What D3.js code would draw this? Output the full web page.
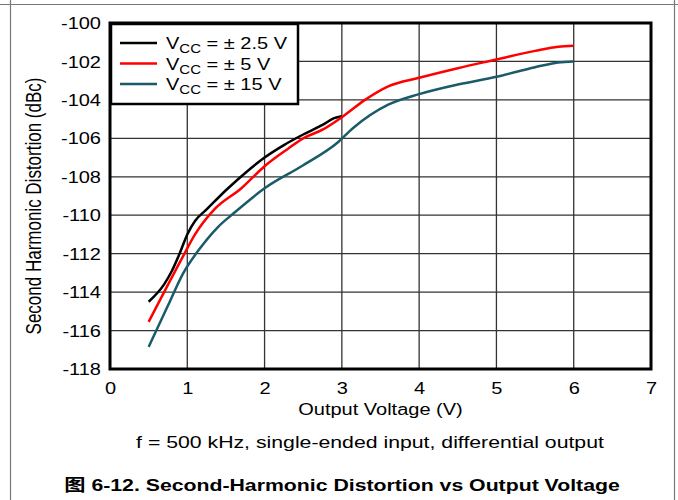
<!DOCTYPE html>
<html>
<head>
<meta charset="utf-8">
<script src="https://cdn.jsdelivr.net/npm/d3@7"></script>
<style>
  body { margin: 0; background: #fff; }
  text { font-family: "Liberation Sans", Arial, sans-serif; }
</style>
</head>
<body>
<div id="chart"></div>
<script>
// data
var x_ticks = [0, 1, 2, 3, 4, 5, 6, 7];
var y_ticks = [-100, -102, -104, -106, -108, -110, -112, -114, -116, -118];

var vout_25 = [0.5, 0.7, 0.8, 0.9, 1.0, 1.1, 1.25, 1.5, 1.75, 2.0, 2.25, 2.5, 2.75, 2.9, 3.0];
var hd2_25 = [-114.5, -113.6, -112.9, -112.0, -111.0, -110.3, -109.7, -108.7, -107.8, -107.0, -106.35, -105.8, -105.3, -104.95, -104.85];

var vout_5 = [0.5, 0.7, 0.95, 1.1, 1.35, 1.7, 2.0, 2.3, 2.5, 2.75, 3.0, 3.3, 3.6, 4.0, 4.5, 5.0, 5.5, 5.8, 6.0];
var hd2_5 = [-115.55, -114.0, -112.1, -111.0, -109.7, -108.6, -107.45, -106.55, -106.0, -105.55, -104.9, -104.0, -103.3, -102.85, -102.35, -101.9, -101.45, -101.23, -101.18];

var vout_15 = [0.5, 0.75, 0.95, 1.15, 1.4, 1.6, 2.0, 2.5, 2.95, 3.15, 3.6, 4.0, 4.5, 5.0, 5.5, 5.8, 6.0];
var hd2_15 = [-116.85, -114.7, -113.0, -111.8, -110.6, -109.9, -108.6, -107.4, -106.2, -105.45, -104.25, -103.7, -103.2, -102.8, -102.3, -102.05, -102.0];

var series_names = ["\u00b1 2.5 V", "\u00b1 5 V", "\u00b1 15 V"];
var series_colors = ["#000000", "#ff0000", "#1a5b6a"];

var chart_width = 678, chart_height = 500;
var plot_left = 110, plot_right = 651, plot_top = 23, plot_bottom = 369;
var stretch = 1.25; // text in the reference is wider than it is tall

var svg = d3.select("#chart").append("svg")
    .attr("width", chart_width)
    .attr("height", chart_height);

// places a horizontally stretched text at x, y
function put_text(sel, x, y) {
    sel.attr("transform", "translate(" + x + "," + y + ") scale(" + stretch + ",1)");
}

// outer page frame
svg.append("line").attr("x1", 0).attr("x2", chart_width).attr("y1", 4.5).attr("y2", 4.5)
    .attr("stroke", "#777").attr("stroke-width", 1.2);
svg.append("line").attr("x1", 10.5).attr("x2", 10.5).attr("y1", 0).attr("y2", chart_height)
    .attr("stroke", "#777").attr("stroke-width", 1.2);
svg.append("line").attr("x1", 674.5).attr("x2", 674.5).attr("y1", 0).attr("y2", chart_height)
    .attr("stroke", "#777").attr("stroke-width", 1.2);

var scale_x = d3.scaleLinear().domain([0, 7]).range([plot_left, plot_right]);
var scale_y = d3.scaleLinear().domain([-118, -100]).range([plot_bottom, plot_top]);

// grid
svg.append("g").selectAll("line")
    .data(x_ticks.slice(1, -1))
    .enter().append("line")
    .attr("x1", function(d) { return scale_x(d); })
    .attr("x2", function(d) { return scale_x(d); })
    .attr("y1", plot_top).attr("y2", plot_bottom)
    .attr("stroke", "#333").attr("stroke-width", 1.3);

svg.append("g").selectAll("line")
    .data(y_ticks.slice(1, -1))
    .enter().append("line")
    .attr("y1", function(d) { return scale_y(d); })
    .attr("y2", function(d) { return scale_y(d); })
    .attr("x1", plot_left).attr("x2", plot_right)
    .attr("stroke", "#333").attr("stroke-width", 1.3);

// tick labels
var x_axis = d3.axisBottom(scale_x).tickValues(x_ticks).tickSize(0).tickFormat(d3.format("d"));
var gx = svg.append("g")
    .attr("transform", "translate(0," + plot_bottom + ")")
    .call(x_axis)
    .call(function(g) { g.select(".domain").remove(); });
gx.selectAll("text")
    .attr("y", 0).attr("dy", null)
    .attr("font-size", 16)
    .attr("fill", "#000")
    .attr("font-family", "Liberation Sans, Arial, sans-serif")
    .each(function() { put_text(d3.select(this), 0, 25); });

var y_axis = d3.axisLeft(scale_y).tickValues(y_ticks).tickSize(0)
    .tickFormat(function(d) { return d; });
var gy = svg.append("g")
    .attr("transform", "translate(" + plot_left + ",0)")
    .call(y_axis)
    .call(function(g) { g.select(".domain").remove(); });
gy.selectAll("text")
    .attr("x", 0).attr("dy", "0.35em")
    .attr("font-size", 16)
    .attr("fill", "#000")
    .attr("font-family", "Liberation Sans, Arial, sans-serif")
    .each(function() { put_text(d3.select(this), -9, 0); });

// curves
var line = d3.line()
    .x(function(d) { return scale_x(d[0]); })
    .y(function(d) { return scale_y(d[1]); })
    .curve(d3.curveMonotoneX);

var all_series = [d3.zip(vout_25, hd2_25), d3.zip(vout_5, hd2_5), d3.zip(vout_15, hd2_15)];

svg.append("g").selectAll("path")
    .data(all_series)
    .enter().append("path")
    .attr("d", line)
    .attr("fill", "none")
    .attr("stroke", function(d, i) { return series_colors[i]; })
    .attr("stroke-width", 2.5);

// plot frame
svg.append("rect")
    .attr("x", plot_left).attr("y", plot_top)
    .attr("width", plot_right - plot_left).attr("height", plot_bottom - plot_top)
    .attr("fill", "none").attr("stroke", "#000").attr("stroke-width", 3);

// legend
var legend = svg.append("g");
legend.append("rect")
    .attr("x", 111).attr("y", 24)
    .attr("width", 187).attr("height", 80)
    .attr("fill", "#fff").attr("stroke", "#000").attr("stroke-width", 2.5);

var legend_rows = legend.selectAll("g.row")
    .data(series_names)
    .enter().append("g")
    .attr("class", "row")
    .attr("transform", function(d, i) { return "translate(0," + (43 + i * 20.5) + ")"; });

legend_rows.append("line")
    .attr("x1", 120).attr("x2", 157).attr("y1", 0).attr("y2", 0)
    .attr("stroke", function(d, i) { return series_colors[i]; })
    .attr("stroke-width", 2.5);

var legend_text = legend_rows.append("text")
    .attr("font-size", 16)
    .attr("fill", "#000")
    .each(function() { put_text(d3.select(this), 166, 6); });
legend_text.append("tspan").text("V");
legend_text.append("tspan").text("CC").attr("font-size", 12).attr("dy", 4);
legend_text.append("tspan").text(function(d) { return " = " + d; }).attr("dy", -4);

// titles
svg.append("text")
    .attr("text-anchor", "middle")
    .attr("font-size", 16)
    .text("Output Voltage (V)")
    .call(put_text, (plot_left + plot_right) / 2, 415);

svg.append("text")
    .attr("transform", "translate(41," + ((plot_top + plot_bottom) / 2 + 10) + ") rotate(-90) scale(1," + stretch + ")")
    .attr("text-anchor", "middle")
    .attr("font-size", 17)
    .text("Second Harmonic Distortion (dBc)");

svg.append("text")
    .attr("text-anchor", "middle")
    .attr("font-size", 17)
    .text("f = 500 kHz, single-ended input, differential output")
    .call(put_text, 370, 448);

svg.append("text")
    .attr("text-anchor", "middle")
    .attr("font-size", 17)
    .attr("font-weight", "bold")
    .style("font-family", "'Liberation Sans', 'Noto Sans CJK SC', sans-serif")
    .text("\u56fe 6-12. Second-Harmonic Distortion vs Output Voltage")
    .call(put_text, 342, 491);
</script>
</body>
</html>
